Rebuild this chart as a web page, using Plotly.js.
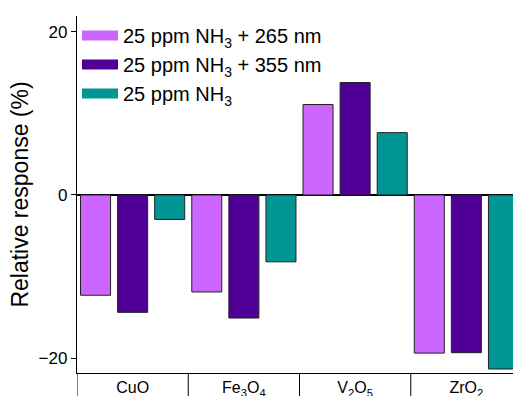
<!DOCTYPE html>
<html>
<head>
<meta charset="utf-8">
<script src="https://cdn.plot.ly/plotly-3.0.1.min.js"></script>
<style>html,body{margin:0;padding:0;background:#fff;}#chart{width:513px;height:396px;}</style>
</head>
<body>
<div id="chart"></div>
<script>
// Data
const categories = ["CuO", "Fe<sub>3</sub>O<sub>4</sub>", "V<sub>2</sub>O<sub>5</sub>", "ZrO<sub>2</sub>"];
const seriesNames = ["25 ppm NH<sub>3</sub> + 265 nm", "25 ppm NH<sub>3</sub> + 355 nm", "25 ppm NH<sub>3</sub>"];
const uv265 = [-12.3, -11.9, 11.1, -19.4];
const uv355 = [-14.4, -15.1, 13.8, -19.35];
const dark = [-3.0, -8.2, 7.65, -21.35];
const yTicks = [-20, 0, 20];

const colors = ["#CC66FF", "#500096", "#009693"];
const xIdx = categories.map((c, i) => i);
const seriesVals = [uv265, uv355, dark];

const traces = [];
seriesVals.forEach((vals, k) => {
  traces.push({
    type: "bar", x: xIdx, y: vals, name: seriesNames[k], showlegend: false,
    marker: {color: colors[k], line: {color: "#222", width: 1}},
    hoverinfo: "skip"
  });
});
// legend entries (wide swatches)
seriesVals.forEach((vals, k) => {
  traces.push({
    type: "scatter", mode: "lines", x: [null], y: [null], name: seriesNames[k],
    legendgroup: "g" + k,
    line: {color: colors[k], width: 10}, showlegend: true
  });
});

const sep = [];
for (let i = 0; i <= categories.length; i++) {
  sep.push({type: "line", xref: "x", yref: "paper", x0: i - 0.5, x1: i - 0.5, y0: 0, y1: -0.2,
    line: {color: "#000", width: 1}});
}
const topTicks = [];
categories.forEach((c, i) => { topTicks.push(i - 0.5 + 1/3, i - 0.5 + 2/3); });

const xr = [-0.5, 3.5 - 9/111.25];
const yr = [-21.84, 21.96];

const layout = {
  width: 513, height: 396,
  margin: {l: 77, r: 0, t: 16, b: 23},
  paper_bgcolor: "#fff", plot_bgcolor: "#fff",
  font: {family: "Liberation Sans, Arial, sans-serif", color: "#000"},
  barmode: "group", bargap: 0, bargroupgap: 0.19,
  xaxis: {
    range: xr, tickvals: xIdx, ticktext: categories, ticks: "", showgrid: false,
    zeroline: false, showline: true, linecolor: "#000", linewidth: 1.2,
    tickfont: {size: 16}, fixedrange: true
  },
  xaxis2: {
    overlaying: "x", side: "top", anchor: "y", range: xr, tickvals: topTicks,
    ticks: "inside", ticklen: 4, tickcolor: "#000", showticklabels: false,
    showgrid: false, zeroline: false, showline: true, linecolor: "#000", linewidth: 1.2
  },
  yaxis: {
    range: yr, tickvals: yTicks, ticks: "outside", ticklen: 5, tickcolor: "#000",
    showgrid: false, zeroline: true, zerolinecolor: "#000", zerolinewidth: 1.5,
    showline: true, linecolor: "#000", linewidth: 1.2, tickfont: {size: 17},
    title: {text: "Relative response (%)", font: {size: 23}, standoff: 3}
  },
  yaxis2: {
    overlaying: "y", anchor: "x", side: "left", range: yr, dtick: 10, tick0: 0,
    ticks: "inside", ticklen: 4, tickcolor: "#000", showticklabels: false,
    showgrid: false, zeroline: false, showline: false
  },
  legend: {x: 0.0, y: 1.0, xanchor: "left", yanchor: "top", bgcolor: "rgba(0,0,0,0)",
    font: {size: 20}, traceorder: "grouped", tracegroupgap: 0, itemwidth: 36},
  shapes: sep
};

Plotly.newPlot("chart", traces, layout, {displayModeBar: false, staticPlot: true});
</script>
</body>
</html>
